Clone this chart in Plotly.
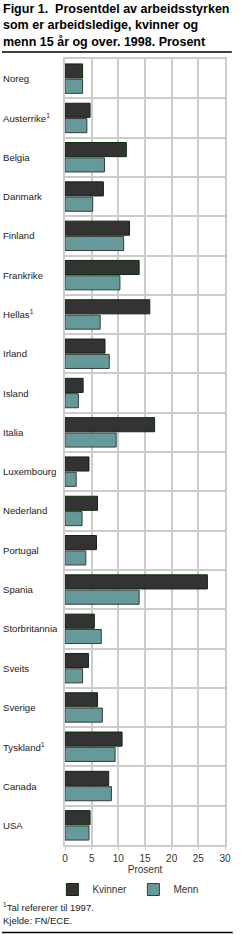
import plotly.graph_objects as go

countries = ["Noreg", "Austerrike<sup>1</sup>", "Belgia", "Danmark", "Finland",
             "Frankrike", "Hellas<sup>1</sup>", "Irland", "Island", "Italia",
             "Luxembourg", "Nederland", "Portugal", "Spania", "Storbritannia",
             "Sveits", "Sverige", "Tyskland<sup>1</sup>", "Canada", "USA"]
kvinner = [3.3, 4.7, 11.5, 7.2, 12.1, 13.9, 15.9, 7.5, 3.4, 16.8,
           4.5, 6.1, 5.9, 26.7, 5.5, 4.4, 6.1, 10.7, 8.2, 4.7]
menn = [3.3, 4.1, 7.4, 5.2, 11.0, 10.3, 6.6, 8.3, 2.5, 9.6,
        2.1, 3.2, 3.9, 13.9, 6.8, 3.3, 7.0, 9.4, 8.7, 4.5]
x_ticks = [0, 5, 10, 15, 20, 25, 30]

W, H = 243, 934
L, R, T, B = 65, 13, 59, 89
PW = W - L - R
PH = H - T - B

def px2x(px):
    return (px - L) / PW

def py2y(py):
    return (H - B - py) / PH

FONT = "Liberation Sans"

fig = go.Figure()
fig.add_trace(go.Bar(y=countries, x=kvinner, orientation="h", name="Kvinner",
                     marker=dict(color="#333333", line=dict(color="#0d2a0d", width=1))))
fig.add_trace(go.Bar(y=countries, x=menn, orientation="h", name="Menn",
                     marker=dict(color="#669999", line=dict(color="#3a3a3a", width=1))))

annotations = []
for c in countries:
    annotations.append(dict(x=px2x(1), y=c, xref="paper", yref="y", text=c,
                            showarrow=False, xanchor="left", yanchor="middle",
                            borderpad=0, borderwidth=0,
                            font=dict(family=FONT, size=9.6, color="#222222")))
annotations.append(dict(x=px2x(0), y=py2y(907), xref="paper", yref="paper",
                        text="<sup>1</sup>Tal refererer til 1997.", showarrow=False,
                        xanchor="left", yanchor="middle", borderpad=0,
                        font=dict(family=FONT, size=9.5, color="#222222")))
annotations.append(dict(x=px2x(0), y=py2y(920), xref="paper", yref="paper",
                        text="Kjelde: FN/ECE.", showarrow=False,
                        xanchor="left", yanchor="middle", borderpad=0,
                        font=dict(family=FONT, size=9.5, color="#222222")))
annotations.append(dict(x=px2x(0), y=py2y(1), xref="paper", yref="paper",
                        text="<b>Figur 1.  Prosentdel av arbeidsstyrken<br>som er arbeidsledige, kvinner og<br>menn 15 år og over. 1998. Prosent</b>",
                        showarrow=False, xanchor="left", yanchor="top", align="left",
                        borderpad=0,
                        font=dict(family=FONT, size=12.5, color="black")))

shapes = [
    dict(type="line", xref="paper", yref="paper", x0=px2x(0), x1=px2x(237),
         y0=py2y(52), y1=py2y(52), line=dict(color="black", width=1.5)),
    dict(type="line", xref="paper", yref="paper", x0=px2x(0), x1=px2x(238),
         y0=py2y(932.5), y1=py2y(932.5), line=dict(color="black", width=1.5)),
]

fig.update_layout(
    width=W, height=H,
    margin=dict(l=L, r=R, t=T, b=B, pad=0),
    paper_bgcolor="white", plot_bgcolor="white",
    barmode="group", bargap=0.22, bargroupgap=0.08,
    xaxis=dict(range=[0, 30], tickvals=x_ticks, ticktext=[str(v) for v in x_ticks],
               showgrid=True, gridcolor="#cccccc", gridwidth=2,
               showline=True, linecolor="#cccccc", linewidth=2, mirror=True,
               ticks="outside", ticklen=3, tickcolor="#cccccc",
               tickfont=dict(family=FONT, size=10, color="#333333"),
               title=dict(text="Prosent", standoff=2,
                          font=dict(family=FONT, size=10, color="#333333")),
               zeroline=False, fixedrange=True),
    yaxis=dict(autorange="reversed", type="category", tickson="boundaries",
               showgrid=True, gridcolor="#cccccc", gridwidth=2,
               showline=True, linecolor="#cccccc", linewidth=2, mirror=True,
               showticklabels=False, ticks="", fixedrange=True),
    legend=dict(orientation="h", x=px2x(52), xanchor="left",
                y=py2y(875), yanchor="top", entrywidth=36,
                font=dict(family=FONT, size=10, color="#333333"),
                bgcolor="rgba(0,0,0,0)", traceorder="normal"),
    annotations=annotations,
    shapes=shapes,
    showlegend=True,
)

fig.write_html("out.html")
